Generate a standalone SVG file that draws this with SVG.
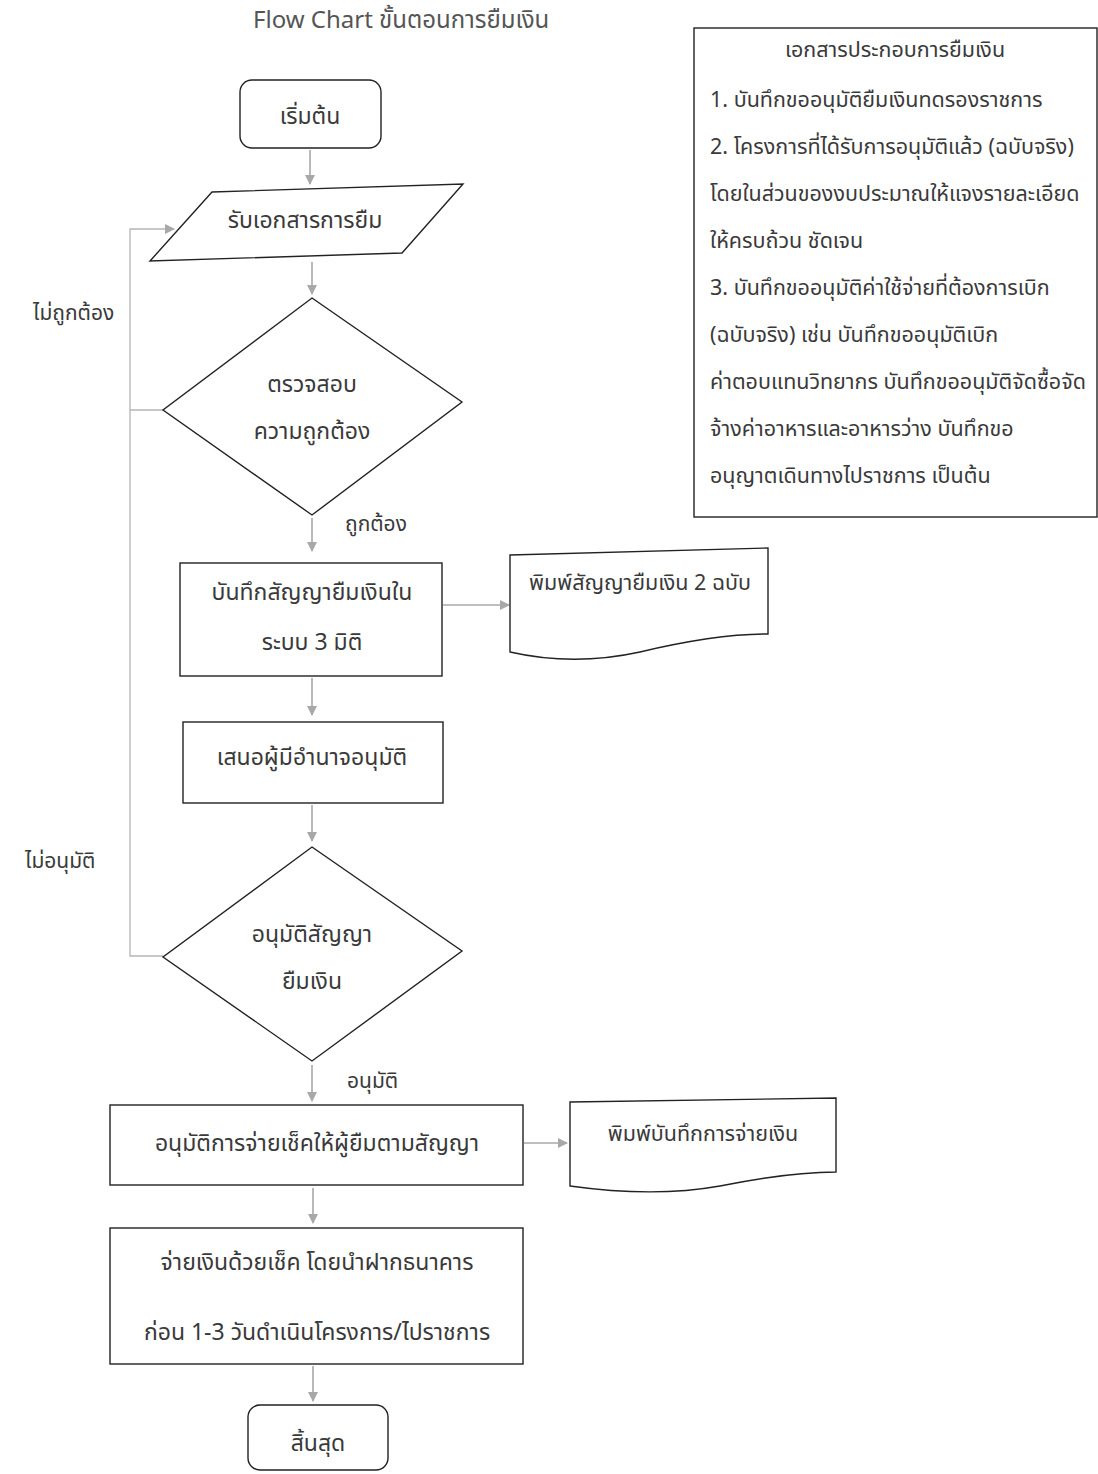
<svg xmlns="http://www.w3.org/2000/svg" width="1098" height="1474" viewBox="0 0 1098 1474">
<defs>
<marker id="ah" viewBox="0 0 10 10" refX="9" refY="5" markerWidth="10" markerHeight="10" markerUnits="userSpaceOnUse" orient="auto">
<path d="M0,0 L10,5 L0,10 Z" fill="#a8a8a8"/>
</marker>
<style>
text{font-family:"Noto Sans Thai","Noto Sans Thai UI","Loma","Garuda","Noto Sans","DejaVu Sans",sans-serif;fill:#3a3a3a;font-size:23px}
.c{text-anchor:middle}
.s{fill:#fff;stroke:#222;stroke-width:1.4}
.e{fill:none;stroke:#a8a8a8;stroke-width:1.6}
.l{fill:none;stroke:#b5b5b5;stroke-width:1.3}
.t{font-size:21.5px}
.lb{font-size:21px}
</style>
</defs>
<rect width="1098" height="1474" fill="#fff"/>
<text x="253" y="28" style="font-size:24px;fill:#555">Flow Chart ขั้นตอนการยืมเงิน</text>

<g id="connectors">
<line class="e" x1="310" y1="150" x2="310" y2="184" marker-end="url(#ah)"/>
<line class="e" x1="312" y1="262" x2="312" y2="294" marker-end="url(#ah)"/>
<line class="e" x1="312" y1="518" x2="312" y2="551" marker-end="url(#ah)"/>
<line class="e" x1="443" y1="605" x2="509" y2="605" marker-end="url(#ah)"/>
<line class="e" x1="312" y1="678" x2="312" y2="715" marker-end="url(#ah)"/>
<line class="e" x1="312" y1="805" x2="312" y2="841" marker-end="url(#ah)"/>
<line class="e" x1="312" y1="1065" x2="312" y2="1101" marker-end="url(#ah)"/>
<line class="e" x1="524" y1="1143" x2="567" y2="1143" marker-end="url(#ah)"/>
<line class="e" x1="313" y1="1188" x2="313" y2="1223" marker-end="url(#ah)"/>
<line class="e" x1="313" y1="1366" x2="313" y2="1401" marker-end="url(#ah)"/>
<path class="l" d="M163,956 H130 V229 H174" marker-end="url(#ah)"/>
<path class="l" d="M163,410 H130"/>
</g>

<g id="start">
<rect class="s" x="240" y="80" width="141" height="68" rx="12"/>
<text class="c" x="310" y="124">เริ่มต้น</text>
</g>
<g id="receive">
<polygon class="s" points="212,192 463,184 402,253 150,261"/>
<text class="c" x="305" y="228">รับเอกสารการยืม</text>
</g>
<g id="check">
<polygon class="s" points="312,298 462,402 312,515 163,410"/>
<text class="c" x="312" y="392">ตรวจสอบ</text>
<text class="c" x="312" y="439">ความถูกต้อง</text>
</g>
<g id="label-incorrect"><text class="lb" x="33" y="320">ไม่ถูกต้อง</text></g>
<g id="label-correct"><text class="lb" x="345" y="531">ถูกต้อง</text></g>
<g id="record">
<rect class="s" x="180" y="563" width="262" height="113"/>
<text class="c" x="312" y="600">บันทึกสัญญายืมเงินใน</text>
<text class="c" x="312" y="650">ระบบ 3 มิติ</text>
</g>
<g id="print-contract">
<path class="s" d="M510,555 L768,548 L768,634 C730,634 690,640 640,652 C590,663 545,660 510,652 Z"/>
<text class="c t" x="640" y="590">พิมพ์สัญญายืมเงิน 2 ฉบับ</text>
</g>
<g id="propose">
<rect class="s" x="183" y="722" width="260" height="81"/>
<text class="c" x="312" y="765">เสนอผู้มีอำนาจอนุมัติ</text>
</g>
<g id="approve">
<polygon class="s" points="312,847 462,951 312,1061 163,957"/>
<text class="c" x="312" y="942">อนุมัติสัญญา</text>
<text class="c" x="312" y="989">ยืมเงิน</text>
</g>
<g id="label-notapproved"><text class="lb" x="25" y="868">ไม่อนุมัติ</text></g>
<g id="label-approved"><text class="lb" x="347" y="1088">อนุมัติ</text></g>
<g id="pay-approve">
<rect class="s" x="110" y="1105" width="413" height="80"/>
<text class="c" x="317" y="1151">อนุมัติการจ่ายเช็คให้ผู้ยืมตามสัญญา</text>
</g>
<g id="print-payment">
<path class="s" d="M570,1102 L836,1098 L836,1172 C800,1172 760,1178 720,1186 C670,1195 620,1193 570,1186 Z"/>
<text class="c t" x="703" y="1141">พิมพ์บันทึกการจ่ายเงิน</text>
</g>
<g id="pay">
<rect class="s" x="110" y="1228" width="413" height="136"/>
<text class="c" x="317" y="1270">จ่ายเงินด้วยเช็ค โดยนำฝากธนาคาร</text>
<text class="c" x="317" y="1340">ก่อน 1-3 วันดำเนินโครงการ/ไปราชการ</text>
</g>
<g id="end">
<rect class="s" x="248" y="1405" width="140" height="65" rx="12"/>
<text class="c" x="318" y="1451">สิ้นสุด</text>
</g>
<g id="documents">
<rect class="s" x="694" y="28" width="403" height="489"/>
<text class="c t" x="895" y="57">เอกสารประกอบการยืมเงิน</text>
<text class="t" x="710" y="107">1. บันทึกขออนุมัติยืมเงินทดรองราชการ</text>
<text class="t" x="710" y="154">2. โครงการที่ได้รับการอนุมัติแล้ว (ฉบับจริง)</text>
<text class="t" x="710" y="201">โดยในส่วนของงบประมาณให้แจงรายละเอียด</text>
<text class="t" x="710" y="248">ให้ครบถ้วน ชัดเจน</text>
<text class="t" x="710" y="295">3. บันทึกขออนุมัติค่าใช้จ่ายที่ต้องการเบิก</text>
<text class="t" x="710" y="342">(ฉบับจริง) เช่น บันทึกขออนุมัติเบิก</text>
<text class="t" x="710" y="389">ค่าตอบแทนวิทยากร บันทึกขออนุมัติจัดซื้อจัด</text>
<text class="t" x="710" y="436">จ้างค่าอาหารและอาหารว่าง บันทึกขอ</text>
<text class="t" x="710" y="483">อนุญาตเดินทางไปราชการ เป็นต้น</text>
</g>
</svg>
